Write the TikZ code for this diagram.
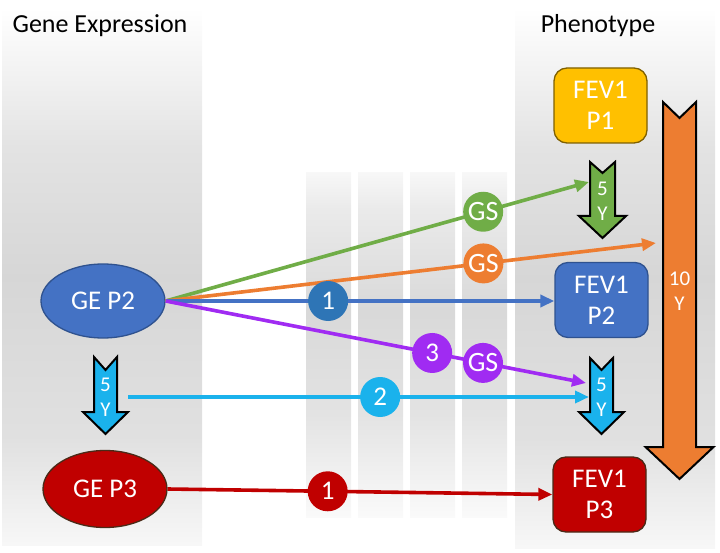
\documentclass[tikz,border=0pt]{standalone}
\usepackage{fontspec}
\setmainfont{Carlito}
\usetikzlibrary{positioning,shapes.geometric,arrows.meta}

\definecolor{geblue}{HTML}{4472C4}
\definecolor{geblueedge}{HTML}{2F528F}
\definecolor{dotblue}{HTML}{2E75B6}
\definecolor{gsgreen}{HTML}{70AD47}
\definecolor{gsorange}{HTML}{ED7D31}
\definecolor{fevgold}{HTML}{FFC000}
\definecolor{fevgoldedge}{HTML}{7F6000}
\definecolor{gered}{HTML}{C00000}
\definecolor{geredge}{HTML}{4A2A18}
\definecolor{gspurple}{HTML}{A02BF2}
\definecolor{skyblue}{HTML}{1AB2EC}

% grey fade of the panels, darkest near the middle
\pgfdeclareverticalshading{panelshade}{100bp}{color(0bp)=(white!97!black);
  color(25bp)=(white!97!black); color(35bp)=(black!12); color(50bp)=(black!16);
  color(62bp)=(black!11); color(75bp)=(white); color(100bp)=(white)}
\pgfdeclareverticalshading{stripshade}{100bp}{color(0bp)=(white);
  color(25bp)=(white!98!black); color(40bp)=(black!11); color(55bp)=(black!15);
  color(70bp)=(black!8); color(75bp)=(white!97!black); color(100bp)=(white)}

% block arrow: fill, centre x, top, notch, half shaft, half head, head base, tip
\newcommand{\yeararrow}[8]{%
  \draw[yeararr, fill=#1] (#2-#5,#3) -- (#2,#3+#4) -- (#2+#5,#3) -- (#2+#5,#7)
    -- (#2+#6,#7) -- (#2,#8) -- (#2-#6,#7) -- (#2-#5,#7) -- cycle;
}

\begin{document}
\begin{tikzpicture}
  [
  x=1pt, y=-1pt,
  >={Triangle[length=14pt,width=12pt]},
  panel/.style={draw=none,shading=panelshade},
  strip/.style={draw=none,shading=stripshade},
  title/.style={anchor=base,font=\fontsize{26}{30}\selectfont},
  gebox/.style={ellipse,draw=#1,line width=1.3pt,text=white,minimum width=124pt,
    minimum height=74pt,font=\fontsize{27}{32}\selectfont},
  fevbox/.style={rectangle,rounded corners=13pt,draw=#1,line width=1.3pt,text=white,
    align=center,minimum width=93pt,minimum height=75pt,font=\fontsize{27}{31}\selectfont},
  yeararr/.style={draw=black,line width=2pt,line join=miter},
  yeartxt/.style={align=center,text=white,inner sep=0pt,font=\fontsize{21}{25}\selectfont},
  conn/.style={->,line width=3.6pt},
  dot/.style={circle,inner sep=0pt,minimum size=40pt,text=white,font=\fontsize{27}{30}\selectfont},
  gsdot/.style={dot,font=\fontsize{28}{30}\selectfont}
  ]
  \useasboundingbox (0,0) rectangle (720,553);

  % backgrounds
  \shade[panel] (2,8) rectangle (202,545);
  \shade[panel] (515,8) rectangle (715,548);
  \foreach \sx in {306,358,410,462}
    \shade[strip] (\sx,173) rectangle (\sx+45,517);

  \node (getitle) [title] at (100,33) {Gene Expression};
  \node (phtitle) [title] at (598,33) {Phenotype};

  \node (ge2)  [gebox=geblueedge,fill=geblue] at (103,301) {GE P2};
  \node (ge3)  [gebox=geredge,fill=gered,minimum height=77pt] at (105,489) {GE P3};
  \node (fev1) [fevbox=fevgoldedge,fill=fevgold] at (600.5,105.5) {FEV1\\P1};
  \node (fev2) [fevbox=geblueedge,fill=geblue] at (601.5,300) {FEV1\\P2};
  \node (fev3) [fevbox=geredge,fill=gered] at (599.5,494.5) {FEV1\\P3};

  % year arrows
  \yeararrow{skyblue}{105.5}{357}{13}{11.5}{22.5}{412}{434}
  \yeararrow{gsgreen}{602.5}{162}{11}{12.5}{23.5}{216}{238}
  \yeararrow{skyblue}{601.5}{358}{12}{11.5}{22.5}{412}{434}
  \yeararrow{gsorange}{679.5}{102}{16}{16.5}{34}{447}{479}
  \node (y5ge)  [yeartxt] at (105.5,397) {5\\Y};
  \node (y5p1)  [yeartxt] at (602.5,201) {5\\Y};
  \node (y5p2)  [yeartxt] at (601.5,397) {5\\Y};
  \node (y10)   [yeartxt] at (679.5,291) {10\\Y};

  \coordinate (p1end)  at (589,182);
  \coordinate (y10end) at (656,243);
  \coordinate (p2end)  at (586,383);
  \coordinate (gestart) at (128,397);
  \coordinate (p2mid)  at (589,397);

  % connectors
  \draw [conn,gsgreen] (ge2.east) -- node (gs1) [gsdot,fill=gsgreen,pos=.75] {GS} (p1end);
  \draw [conn,gsorange] (ge2.east) -- node (gs2) [gsdot,fill=gsorange,pos=.648] {GS} (y10end);
  \draw [conn,geblue] (ge2.east) -- node (n1) [dot,fill=dotblue,pos=.418] {1} (ge2.east -| fev2.west);
  \draw [conn,gspurple] (ge2.east)
    -- node (n3) [dot,fill=gspurple,pos=.634] {3}
       node (gs3) [gsdot,fill=gspurple,pos=.755] {GS} (p2end);
  \draw [conn,skyblue] (gestart) -- node (n2) [dot,fill=skyblue,pos=.547] {2} (p2mid);
  \draw [conn,gered] (ge3.east) -- node (n1r) [dot,fill=gered,pos=.416] {1} (fev3.west);
\end{tikzpicture}
\end{document}
